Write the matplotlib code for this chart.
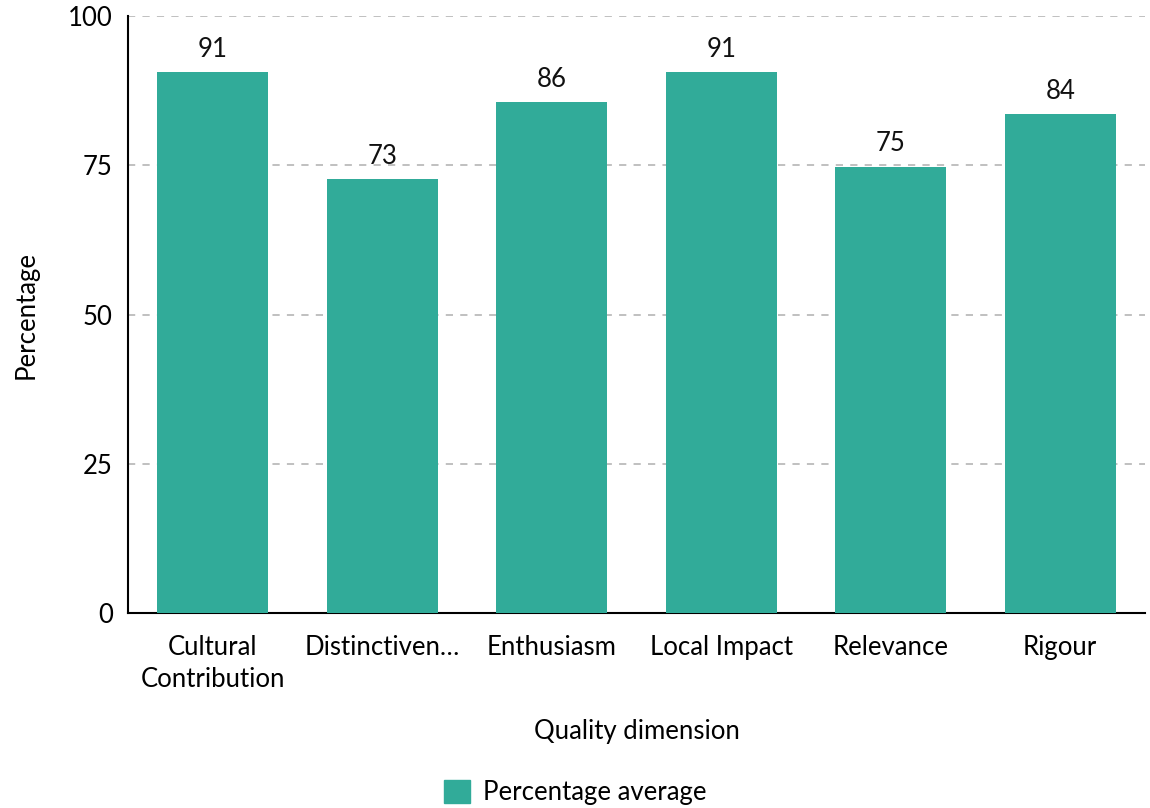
import matplotlib
matplotlib.use("Agg")
import matplotlib.pyplot as plt
from matplotlib.patches import Patch

plt.rcParams['font.family'] = ['Lato', 'DejaVu Sans']

categories = ["Cultural\nContribution", "Distinctiven…", "Enthusiasm",
              "Local Impact", "Relevance", "Rigour"]
values = [90.6, 72.7, 85.6, 90.6, 74.8, 83.6]
yticks = [0, 25, 50, 75, 100]
bar_color = "#31ab99"
fs = 18.5

fig = plt.figure(figsize=(11.5, 8.08), dpi=100)
ax = fig.add_axes([0.1113, 0.2413, 0.8843, 0.7387])

x = range(len(categories))
bars = ax.bar(x, values, width=0.655, color=bar_color, zorder=3)
for b, v in zip(bars, values):
    ax.text(b.get_x() + b.get_width() / 2, v + 1.7, f"{round(v)}",
            ha="center", va="bottom", fontsize=fs, color="#111111")

ax.set_xlim(-0.5, len(categories) - 0.5)
ax.set_ylim(0, 100)
ax.set_yticks(yticks)
ax.set_xticks(list(x))
ax.set_xticklabels(categories, fontsize=fs, linespacing=1.32)
ax.tick_params(axis="y", length=0, labelsize=fs, pad=11)
ax.tick_params(axis="x", length=0, pad=16)
ax.yaxis.grid(True, linestyle=(0, (4, 4)), color="#bbbbbb", linewidth=1.3, zorder=0)
for s in ["top", "right"]:
    ax.spines[s].set_visible(False)
ax.spines["left"].set_linewidth(1.5)
ax.spines["bottom"].set_linewidth(1.5)

ax.set_xlabel("Quality dimension", fontsize=fs, labelpad=20)
ax.set_ylabel("Percentage", fontsize=fs, labelpad=21)

fig.legend(handles=[Patch(color=bar_color, label="Percentage average")],
           loc="center", bbox_to_anchor=(0.5, 0.019), frameon=False,
           fontsize=fs, handlelength=1.0, handleheight=1.0, handletextpad=0.5)

fig.savefig("out.png", dpi=100)
